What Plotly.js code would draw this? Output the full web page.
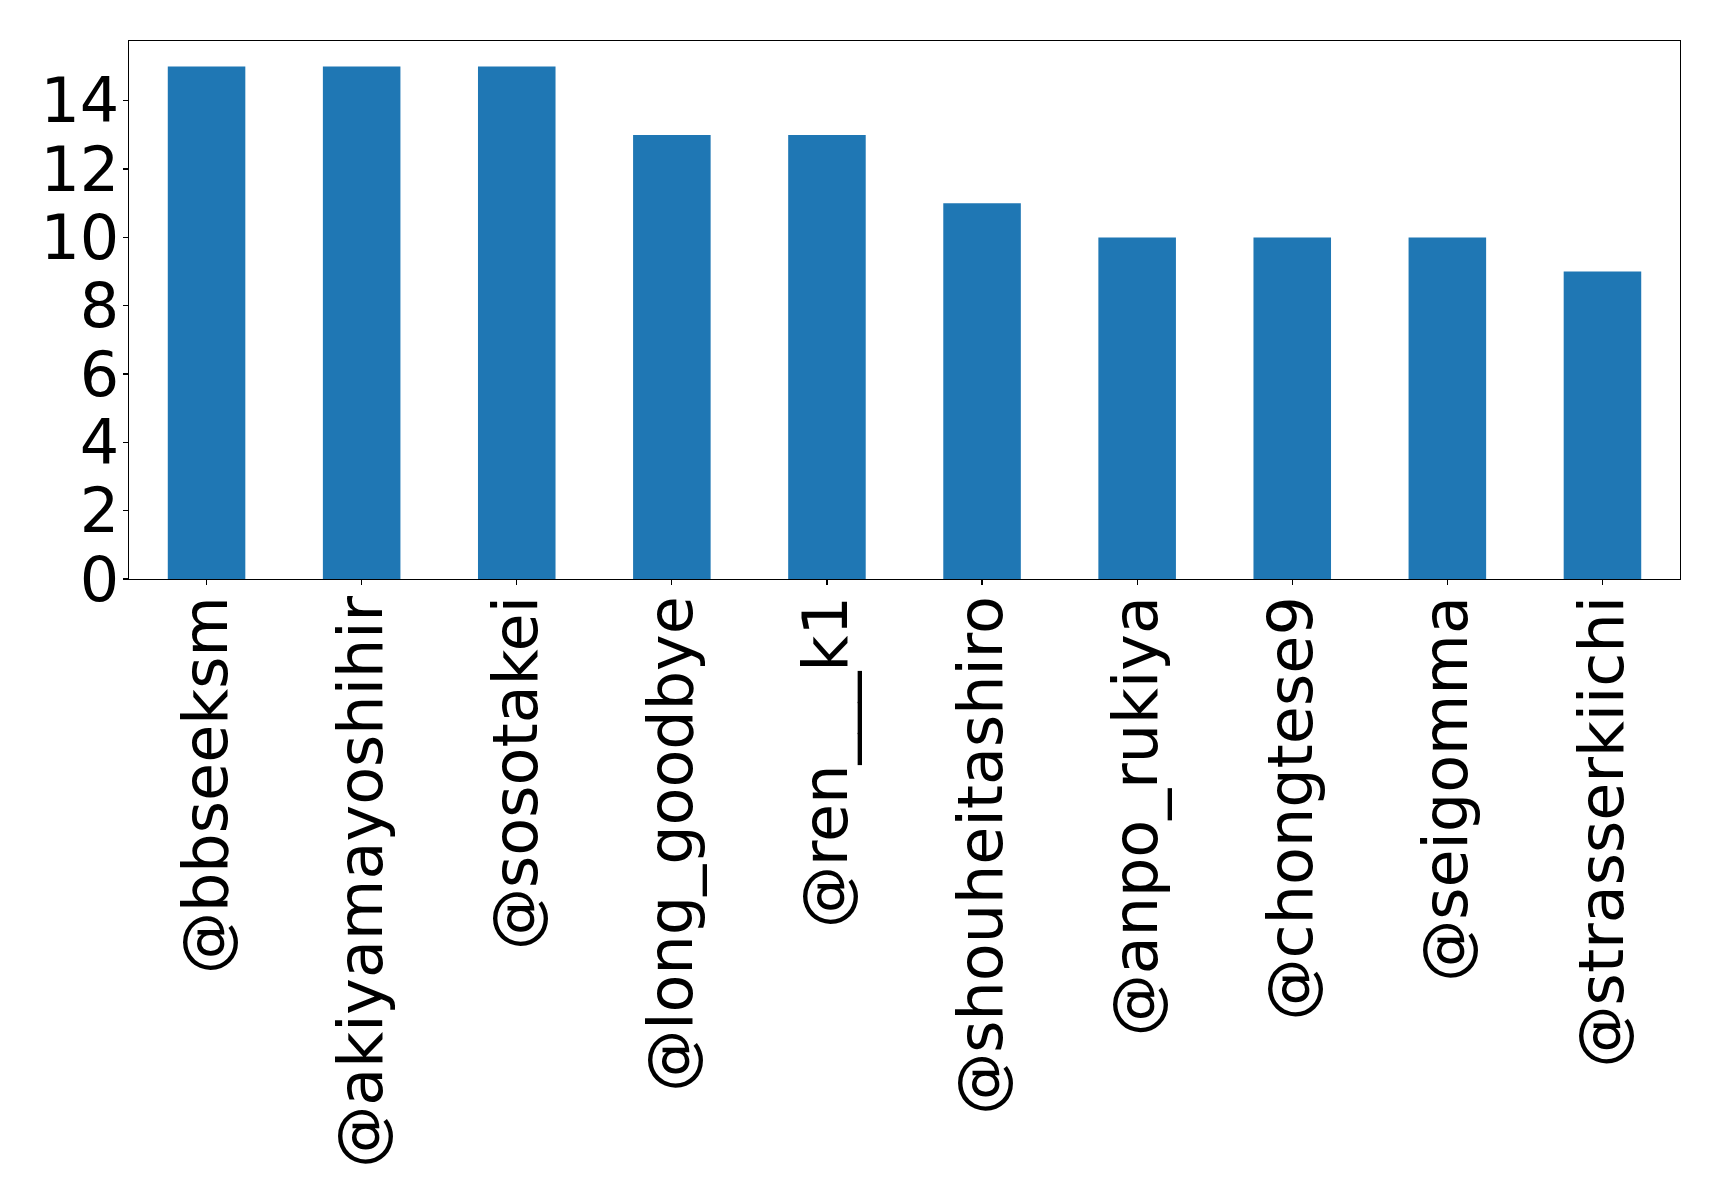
<!DOCTYPE html>
<html>
<head>
<meta charset="utf-8">
<script src="https://cdn.plot.ly/plotly-3.0.1.min.js"></script>
<style>html,body{margin:0;padding:0;background:#fff;}</style>
</head>
<body>
<div id="chart" style="width:1719px;height:1204px;"></div>
<script>
const categories = ["@bbseeksm", "@akiyamayoshihir", "@sosotakei", "@long_goodbye", "@ren___k1", "@shouheitashiro", "@anpo_rukiya", "@chongtese9", "@seigomma", "@strasserkiichi"];
const counts = [15, 15, 15, 13, 13, 11, 10, 10, 10, 9];
const yTicks = [0, 2, 4, 6, 8, 10, 12, 14];

const trace = {
  type: "bar",
  x: categories,
  y: counts,
  width: 0.5,
  marker: {color: "#1f77b4", line: {width: 0}},
  hoverinfo: "x+y"
};

const layout = {
  width: 1719,
  height: 1204,
  margin: {l: 129, r: 39, t: 41, b: 625},
  paper_bgcolor: "#ffffff",
  plot_bgcolor: "#ffffff",
  showlegend: false,
  font: {family: "DejaVu Sans", color: "#000000", size: 62},
  xaxis: {
    type: "category",
    range: [-0.5, 9.5],
    tickangle: -90,
    ticks: "outside",
    ticklen: 5,
    tickwidth: 1.3,
    tickcolor: "#000",
    ticklabelstandoff: -14,
    showline: true,
    linecolor: "#000",
    linewidth: 1.3,
    mirror: true,
    showgrid: false,
    zeroline: false,
    tickfont: {family: "DejaVu Sans", size: 62, color: "#000"}
  },
  yaxis: {
    range: [0, 15.75],
    tickvals: yTicks,
    ticktext: yTicks.map(String),
    ticks: "outside",
    ticklen: 5,
    tickwidth: 1.3,
    tickcolor: "#000",
    ticklabelstandoff: -9,
    showline: true,
    linecolor: "#000",
    linewidth: 1.3,
    mirror: true,
    showgrid: false,
    zeroline: false,
    tickfont: {family: "DejaVu Sans", size: 62, color: "#000"}
  }
};

Plotly.newPlot("chart", [trace], layout, {displayModeBar: false, staticPlot: true});
</script>
</body>
</html>
